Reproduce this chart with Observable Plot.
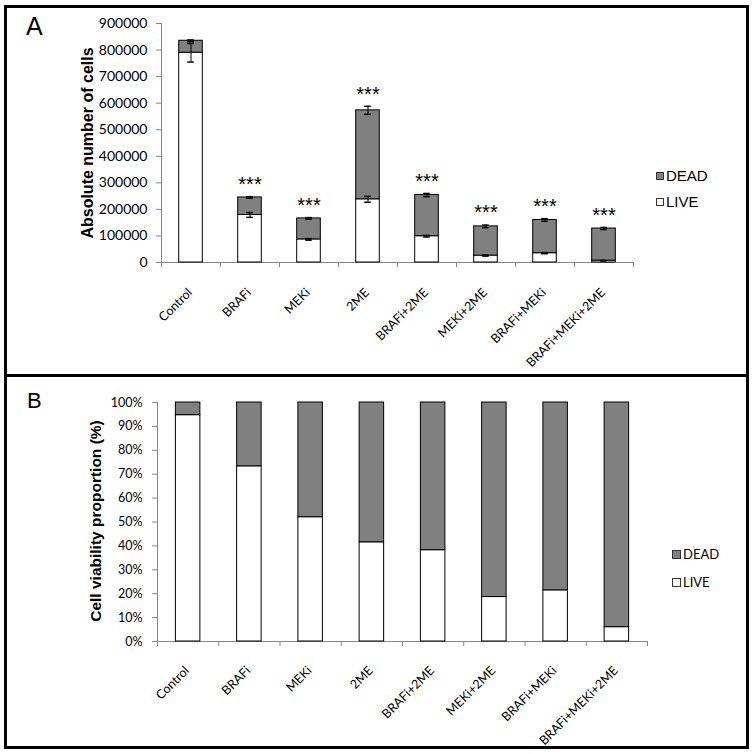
<!DOCTYPE html>
<html>
<head>
<meta charset="utf-8">
<script src="https://cdn.jsdelivr.net/npm/d3@7"></script>
<script src="https://cdn.jsdelivr.net/npm/@observablehq/plot@0.6"></script>
<style>
html, body { margin: 0; padding: 0; background: #fff; }
#root { position: relative; width: 754px; height: 754px; overflow: hidden; background: #fff; }
.abs { position: absolute; }
.ylab { position: absolute; white-space: nowrap; font-family: "Liberation Sans", Arial, sans-serif; font-weight: bold; transform: translate(-50%, -50%) rotate(-90deg); }
.leg { position: absolute; display: flex; align-items: center; white-space: nowrap; color: #000; }
.sw { display: inline-block; box-sizing: border-box; border: 1px solid #333; margin-right: 2px; }
</style>
</head>
<body>
<div id="root"></div>
<script>
// ---- data ----
const categories = ["Control", "BRAFi", "MEKi", "2ME", "BRAFi+2ME", "MEKi+2ME", "BRAFi+MEKi", "BRAFi+MEKi+2ME"];
const liveCounts  = [790000, 179000, 87000, 238000, 99000, 26000, 35000, 7000];
const totalCounts = [835000, 245000, 166000, 573000, 254000, 136000, 160000, 128000];
const liveErr     = [35000, 9000, 3000, 11000, 3000, 2000, 2000, 1000];
const totalErr    = [3000, 3000, 3000, 15000, 6000, 5000, 5000, 4000];
const significance = ["", "***", "***", "***", "***", "***", "***", "***"];
const liveProportion = [0.947, 0.733, 0.52, 0.415, 0.382, 0.186, 0.214, 0.06];
const countTicks = [0, 100000, 200000, 300000, 400000, 500000, 600000, 700000, 800000, 900000];
const percentTicks = [0, 0.1, 0.2, 0.3, 0.4, 0.5, 0.6, 0.7, 0.8, 0.9, 1];
const seriesNames = ["DEAD", "LIVE"];

// ---- styles ----
const colors = { DEAD: "#808080", LIVE: "#ffffff" };
const axisGray = "#868686";
const halfBar = 0.2;
const halfCap = 0.055;

const rowsA = categories.map((c, i) => ({
  cat: c, mid: i + 0.5,
  live: liveCounts[i], total: totalCounts[i],
  le: liveErr[i], te: totalErr[i], sig: significance[i]
}));
const rowsB = categories.map((c, i) => ({ cat: c, mid: i + 0.5, live: liveProportion[i] }));

const boundaries = d3.range(categories.length + 1);
const mids = categories.map((c, i) => i + 0.5);

function commonAxes(yTicks, yFormat, tickPad, yFont, xPad) {
  return [
    Plot.axisY({ ticks: yTicks, tickSize: 5, tickFormat: () => "", stroke: axisGray, label: null }),
    Plot.axisY({ ticks: yTicks, tickSize: 0, tickPadding: tickPad, tickFormat: yFormat, fill: "#000", fontSize: yFont, label: null }),
    Plot.axisX({ ticks: boundaries, tickSize: 5, tickFormat: () => "", stroke: axisGray, label: null }),
    Plot.axisX({ ticks: mids, tickSize: 0, tickPadding: xPad, tickRotate: -45, dx: -1,
      tickFormat: v => categories[Math.floor(v)], fill: "#000", fontSize: 12.5, label: null }),
    Plot.ruleX([0], { stroke: axisGray }),
    Plot.ruleY([0], { stroke: axisGray })
  ];
}

const plotA = Plot.plot({
  width: 754, height: 372,
  marginLeft: 161, marginRight: 121, marginTop: 23, marginBottom: 110,
  style: { fontFamily: "Lato, 'Open Sans', sans-serif", fontSize: "13px", background: "transparent", overflow: "visible" },
  x: { domain: [0, categories.length], axis: null },
  y: { domain: [0, 900000], axis: null },
  marks: [
    ...commonAxes(countTicks, d => String(d), 14, 14, 28),
    Plot.rect(rowsA, { x1: d => d.mid - halfBar, x2: d => d.mid + halfBar, y1: 0, y2: "live", fill: colors.LIVE, stroke: "#000", strokeWidth: 1 }),
    Plot.rect(rowsA, { x1: d => d.mid - halfBar, x2: d => d.mid + halfBar, y1: "live", y2: "total", fill: colors.DEAD, stroke: "#000", strokeWidth: 1 }),
    // live error bars
    Plot.ruleX(rowsA, { x: "mid", y1: d => d.live - d.le, y2: d => d.live + d.le, stroke: "#000" }),
    Plot.ruleY(rowsA, { y: d => d.live - d.le, x1: d => d.mid - halfCap, x2: d => d.mid + halfCap, stroke: "#000", strokeWidth: 1.5 }),
    Plot.ruleY(rowsA, { y: d => d.live + d.le, x1: d => d.mid - halfCap, x2: d => d.mid + halfCap, stroke: "#000", strokeWidth: 1.5 }),
    // total error bars
    Plot.ruleX(rowsA, { x: "mid", y1: d => d.total - d.te, y2: d => d.total + d.te, stroke: "#000" }),
    Plot.ruleY(rowsA, { y: d => d.total - d.te, x1: d => d.mid - halfCap, x2: d => d.mid + halfCap, stroke: "#000", strokeWidth: 1.5 }),
    Plot.ruleY(rowsA, { y: d => d.total + d.te, x1: d => d.mid - halfCap, x2: d => d.mid + halfCap, stroke: "#000", strokeWidth: 1.5 }),
    // significance
    Plot.text(rowsA.filter(d => d.sig), { x: "mid", y: d => d.total + d.te, text: "sig", dy: -12,
      fontSize: 20, fontFamily: "'Liberation Sans', Arial, sans-serif", fill: "#000" })
  ]
});

const plotB = Plot.plot({
  width: 754, height: 370,
  marginLeft: 157, marginRight: 107, marginTop: 22, marginBottom: 109,
  style: { fontFamily: "Lato, 'Open Sans', sans-serif", fontSize: "13px", background: "transparent", overflow: "visible" },
  x: { domain: [0, categories.length], axis: null },
  y: { domain: [0, 1], axis: null },
  marks: [
    ...commonAxes(percentTicks, d => Math.round(d * 100) + "%", 15, 12.5, 27),
    Plot.rect(rowsB, { x1: d => d.mid - halfBar, x2: d => d.mid + halfBar, y1: 0, y2: "live", fill: colors.LIVE, stroke: "#000", strokeWidth: 1 }),
    Plot.rect(rowsB, { x1: d => d.mid - halfBar, x2: d => d.mid + halfBar, y1: "live", y2: 1, fill: colors.DEAD, stroke: "#000", strokeWidth: 1 })
  ]
});

const root = document.getElementById("root");
function place(el, left, top) { el.style.position = "absolute"; el.style.left = left + "px"; el.style.top = top + "px"; root.appendChild(el); return el; }
place(plotA, 0, 0);
place(plotB, 0, 380);

function div(cls, html, css) { const d = document.createElement("div"); if (cls) d.className = cls; d.innerHTML = html; Object.assign(d.style, css); root.appendChild(d); return d; }

// y-axis titles
div("ylab", "Absolute number of cells", { left: "88px", top: "143px", fontSize: "16px" });
div("ylab", "Cell viability proportion (%)", { left: "96px", top: "521px", fontSize: "15.5px" });

// panel letters
div("abs", "A", { left: "26px", top: "12px", fontSize: "25px", fontFamily: "'Liberation Sans', Arial, sans-serif" });
div("abs", "B", { left: "27px", top: "388px", fontSize: "22px", fontFamily: "'Liberation Sans', Arial, sans-serif" });

// legends
function legend(left, top, gap, font, size, sw) {
  seriesNames.forEach((name, k) => {
    div("leg", `<span class="sw" style="width:${sw}px;height:${sw}px;background:${colors[name]}"></span>${name}`,
      { left: left + "px", top: (top + k * gap) + "px", fontFamily: font, fontSize: size + "px" });
  });
}
legend(656, 167, 26, "'Liberation Sans', Arial, sans-serif", 15, 8);
legend(672, 546, 28, "Lato, sans-serif", 13, 9);

// panel borders
div("abs", "", { left: "4px", top: "5px", width: "745px", height: "744px", border: "3px solid #000", boxSizing: "border-box" });
div("abs", "", { left: "4px", top: "374px", width: "745px", height: "3px", background: "#000" });
</script>
</body>
</html>
